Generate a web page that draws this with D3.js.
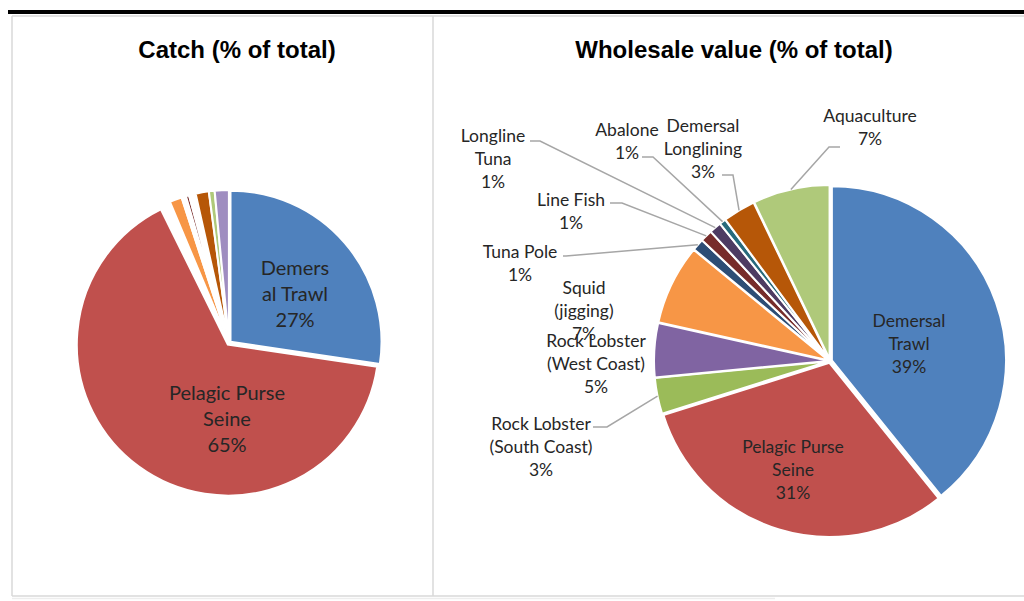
<!DOCTYPE html>
<html>
<head>
<meta charset="utf-8">
<script src="https://cdn.jsdelivr.net/npm/d3@7"></script>
<style>
  body { margin: 0; background: #fff; }
  svg { display: block; }
</style>
</head>
<body>
<svg></svg>
<script>
// catch (% of total) - left pie, clockwise from 12 o'clock
const catchNames = ["Demersal Trawl", "Pelagic Purse Seine", "Rock Lobster", "Squid (jigging)", "Tuna Pole",
  "Line Fish", "Longline Tuna", "Demersal Longlining", "Aquaculture", "Other"];
const catchValues = [27.3, 65.2, 1.0, 1.3, 0.47, 0.33, 0.7, 1.4, 0.6, 1.5];
const catchColors = ["#4F81BD", "#C0504D", "#FFFFFF", "#F79646", "#FFFFFF",
  "#772C2A", "#FFFFFF", "#B65708", "#AFC97A", "#9F8DC0"];

// wholesale value (% of total) - right pie
const valueNames = ["Demersal Trawl", "Pelagic Purse Seine", "Rock Lobster (South Coast)", "Rock Lobster (West Coast)",
  "Squid (jigging)", "Tuna Pole", "Line Fish", "Longline Tuna", "Abalone", "Demersal Longlining", "Aquaculture"];
const valueValues = [39.0, 30.8, 3.3, 5.0, 7.4, 1.1, 1.1, 1.1, 0.6, 3.0, 7.1];
const valueColors = ["#4F81BD", "#C0504D", "#9BBB59", "#8064A2", "#F79646", "#2C4D75",
  "#772C2A", "#4D3B62", "#276A7C", "#B65708", "#AFC97A"];
const valueLabels = ["39%", "31%", "3%", "5%", "7%", "1%", "1%", "1%", "1%", "3%", "7%"];

const width = 1024;
const height = 601;
const svg = d3.select("svg").attr("width", width).attr("height", height);
const labelFont = "Lato, 'Noto Sans', sans-serif";

// frame
svg.append("rect").attr("x", 8).attr("y", 10).attr("width", 1016).attr("height", 4).attr("fill", "#000");
const frame = [[12, 16, 1024, 16], [12, 16, 12, 596], [433, 16, 433, 596], [12, 596, 1024, 596]];
svg.selectAll(".frame").data(frame).enter().append("line")
  .attr("x1", d => d[0]).attr("y1", d => d[1]).attr("x2", d => d[2]).attr("y2", d => d[3])
  .attr("stroke", "#D9D9D9").attr("stroke-width", 1.5);
svg.append("line").attr("x1", 12).attr("y1", 598.5).attr("x2", 775).attr("y2", 598.5)
  .attr("stroke", "#EDEDED").attr("stroke-width", 1.5);

// titles
const titles = [["Catch (% of total)", 237], ["Wholesale value (% of total)", 734]];
svg.selectAll(".title").data(titles).enter().append("text")
  .attr("x", d => d[1]).attr("y", 58)
  .attr("text-anchor", "middle")
  .style("font-family", "'Liberation Sans', Arial, sans-serif")
  .style("font-weight", "bold").style("font-size", "24px")
  .text(d => d[0]);

const drawPie = (names, values, colors, cx, cy, r, explode) => {
  const pie = d3.pie().sort(null).value((d, i) => values[i]);
  const arcs = pie(names);
  const arc = d3.arc().innerRadius(0).outerRadius(r);
  const g = svg.append("g").attr("transform", "translate(" + cx + "," + cy + ")");
  g.selectAll("path").data(arcs).enter().append("path")
    .attr("d", arc)
    .attr("fill", (d, i) => colors[i])
    .attr("stroke", "#fff").attr("stroke-width", 2)
    .attr("transform", d => {
      const a = (d.startAngle + d.endAngle) / 2;
      return "translate(" + explode * Math.sin(a) + "," + (-explode * Math.cos(a)) + ")";
    });
  return arcs;
};

const drawLabel = (lines, x, y, gap, size) => {
  const t = svg.append("text")
    .attr("text-anchor", "middle")
    .style("font-family", labelFont).style("font-size", size + "px")
    .attr("fill", "#262626");
  lines.forEach((s, i) => {
    t.append("tspan").attr("x", x).attr("y", y + i * gap)
      .attr("dominant-baseline", "central").text(s);
  });
};

// left pie
drawPie(catchNames, catchValues, catchColors, 229, 343, 151, 2);
drawLabel(["Demers", "al Trawl", Math.round(catchValues[0]) + "%"], 295, 267, 26, 20);
drawLabel(["Pelagic Purse", "Seine", Math.round(catchValues[1]) + "%"], 227, 392, 26, 20);

// right pie
const rcx = 830, rcy = 361, rr = 174;
const valueArcs = drawPie(valueNames, valueValues, valueColors, rcx, rcy, rr, 2);

// label layout for the right pie: text lines, centre x, first line y, leader start + elbow
const valueLayout = [
  { lines: ["Demersal", "Trawl"], x: 909, y: 320 },
  { lines: ["Pelagic Purse", "Seine"], x: 793, y: 446 },
  { lines: ["Rock Lobster", "(South Coast)"], x: 541, y: 423, lead: [[593, 427], [607, 427]] },
  { lines: ["Rock Lobster", "(West Coast)"], x: 596, y: 340 },
  { lines: ["Squid", "(jigging)"], x: 584, y: 287 },
  { lines: ["Tuna Pole"], x: 520, y: 251, lead: [[563, 256], [566, 256]] },
  { lines: ["Line Fish"], x: 571, y: 199, lead: [[610, 203], [622, 203]] },
  { lines: ["Longline", "Tuna"], x: 493, y: 135, lead: [[530, 141], [540, 141]] },
  { lines: ["Abalone"], x: 627, y: 129, lead: [[642, 157], [653, 157]] },
  { lines: ["Demersal", "Longlining"], x: 703, y: 125, lead: [[722, 175], [733, 175]] },
  { lines: ["Aquaculture"], x: 870, y: 115, lead: [[840, 147], [829, 147]] }
];

valueArcs.forEach((d, i) => {
  const L = valueLayout[i];
  if (L.lead) {
    const a = (d.startAngle + d.endAngle) / 2;
    const end = [rcx + (rr + 2) * Math.sin(a), rcy - (rr + 2) * Math.cos(a)];
    svg.append("path")
      .attr("d", d3.line()([L.lead[0], L.lead[1], end]))
      .attr("fill", "none").attr("stroke", "#A6A6A6").attr("stroke-width", 1.5);
  }
});
valueArcs.forEach((d, i) => {
  const L = valueLayout[i];
  drawLabel(L.lines.concat([valueLabels[i]]), L.x, L.y, 23, 17.5);
});
</script>
</body>
</html>
